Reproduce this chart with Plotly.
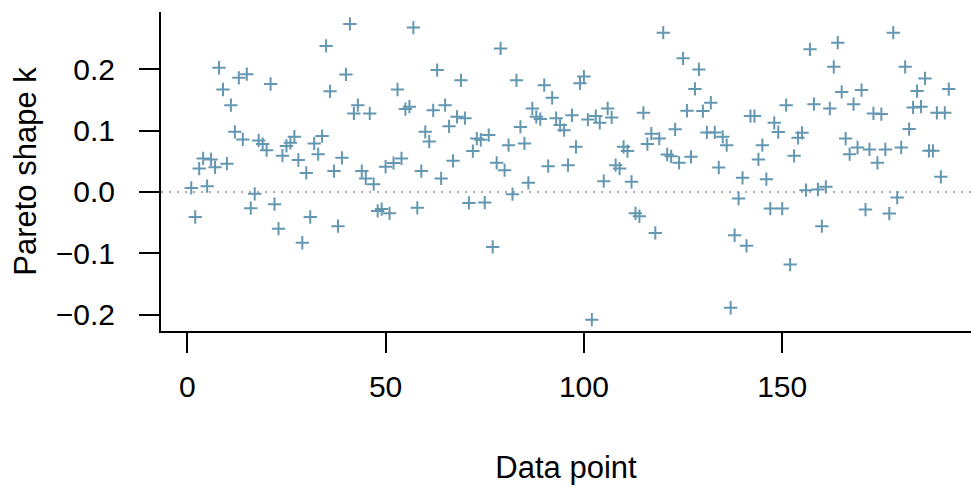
import plotly.graph_objects as go

# Pareto shape k estimates, one per data point
pareto_k = [
    0.0065, -0.041, 0.038, 0.0545, 0.0093, 0.053, 0.040, 0.2025, 0.167, 0.046,
    0.1415, 0.098, 0.186, 0.0855, 0.192, -0.0266, -0.0032, 0.084, 0.078, 0.068,
    0.176, -0.020, -0.060, 0.059, 0.075, 0.080, 0.090, 0.052, -0.083, 0.031,
    -0.041, 0.079, 0.0615, 0.091, 0.238, 0.164, 0.034, -0.056, 0.0556, 0.1916,
    0.274, 0.128, 0.1415, 0.034, 0.022, 0.128, 0.0126, -0.031, -0.028, 0.041,
    -0.035, 0.047, 0.167, 0.0545, 0.135, 0.139, 0.268, -0.026, 0.034, 0.098,
    0.082, 0.133, 0.1987, 0.022, 0.1415, 0.107, 0.0507, 0.1225, 0.182, 0.1203,
    -0.018, 0.0665, 0.087, 0.085, -0.0175, 0.0926, -0.0897, 0.0474, 0.234, 0.0354,
    0.0762, -0.0038, 0.182, 0.106, 0.079, 0.0147, 0.136, 0.1225, 0.1187, 0.174,
    0.042, 0.1535, 0.1203, 0.109, 0.1007, 0.0436, 0.125, 0.0735, 0.177, 0.188,
    0.118, -0.2084, 0.1236, 0.1127, 0.0175, 0.136, 0.1215, 0.0436, 0.038, 0.0735,
    0.0665, 0.0164, -0.035, -0.0397, 0.129, 0.078, 0.095, -0.067, 0.087, 0.2597,
    0.061, 0.058, 0.102, 0.0474, 0.2178, 0.1323, 0.0572, 0.168, 0.1998, 0.1318,
    0.097, 0.1454, 0.097, 0.0398, 0.0898, 0.0762, -0.189, -0.0707, -0.0108, 0.0229,
    -0.088, 0.1236, 0.1236, 0.0529, 0.0762, 0.0207, -0.0272, 0.1127, 0.0975, -0.0272,
    0.1415, -0.1186, 0.0588, 0.0882, 0.0964, 0.0028, 0.2325, 0.143, 0.0039, -0.056,
    0.0082, 0.136, 0.204, 0.2433, 0.163, 0.087, 0.0615, 0.143, 0.0724, 0.166,
    -0.0288, 0.0692, 0.128, 0.0474, 0.1269, 0.0692, -0.0353, 0.2597, -0.0092, 0.0724,
    0.204, 0.1024, 0.1378, 0.1644, 0.139, 0.185, 0.067, 0.067, 0.129, 0.0245,
    0.129, 0.1677,
]
data_point = list(range(1, len(pareto_k) + 1))

x_ticks = [0, 50, 100, 150]
y_ticks = [-0.2, -0.1, 0.0, 0.1, 0.2]

FONT = "Liberation Sans, Arial, Helvetica, sans-serif"
POINT_COLOR = "#6497b1"

fig = go.Figure()
fig.add_trace(go.Scatter(
    x=data_point, y=pareto_k, mode="markers",
    marker=dict(symbol="cross-thin", size=9.5, color=POINT_COLOR,
                line=dict(width=2, color=POINT_COLOR)),
    hoverinfo="x+y", showlegend=False,
))
fig.add_hline(y=0, line=dict(color="#aaaaaa", width=2, dash="2px,6px"), layer="below")

fig.update_layout(
    width=971, height=487,
    margin=dict(l=161, r=0, t=12, b=156, autoexpand=False),
    paper_bgcolor="white", plot_bgcolor="white",
    font=dict(family=FONT, size=30, color="black"),
)
fig.update_xaxes(
    range=[-6.63, 197.6], tickvals=x_ticks, ticktext=[str(v) for v in x_ticks],
    showline=True, linewidth=2, linecolor="black", mirror=False,
    ticks="outside", ticklen=20, tickwidth=2, tickcolor="black",
    showgrid=False, zeroline=False, ticklabelstandoff=8,
    title=dict(text="Data point", font=dict(size=31), standoff=54),
    automargin=False,
)
fig.update_yaxes(
    range=[-0.2269, 0.2934], tickvals=y_ticks, tickformat=".1f",
    showline=True, linewidth=2, linecolor="black", mirror=False,
    ticks="outside", ticklen=20, tickwidth=2, tickcolor="black",
    showgrid=False, zeroline=False, ticklabelstandoff=18,
    title=dict(text="Pareto shape k", font=dict(size=31), standoff=10),
    automargin=False,
)

fig.write_html(
    "out.html",
    config={"displayModeBar": False},
    post_script="document.body.style.margin='0px';document.body.style.overflow='hidden';",
)
